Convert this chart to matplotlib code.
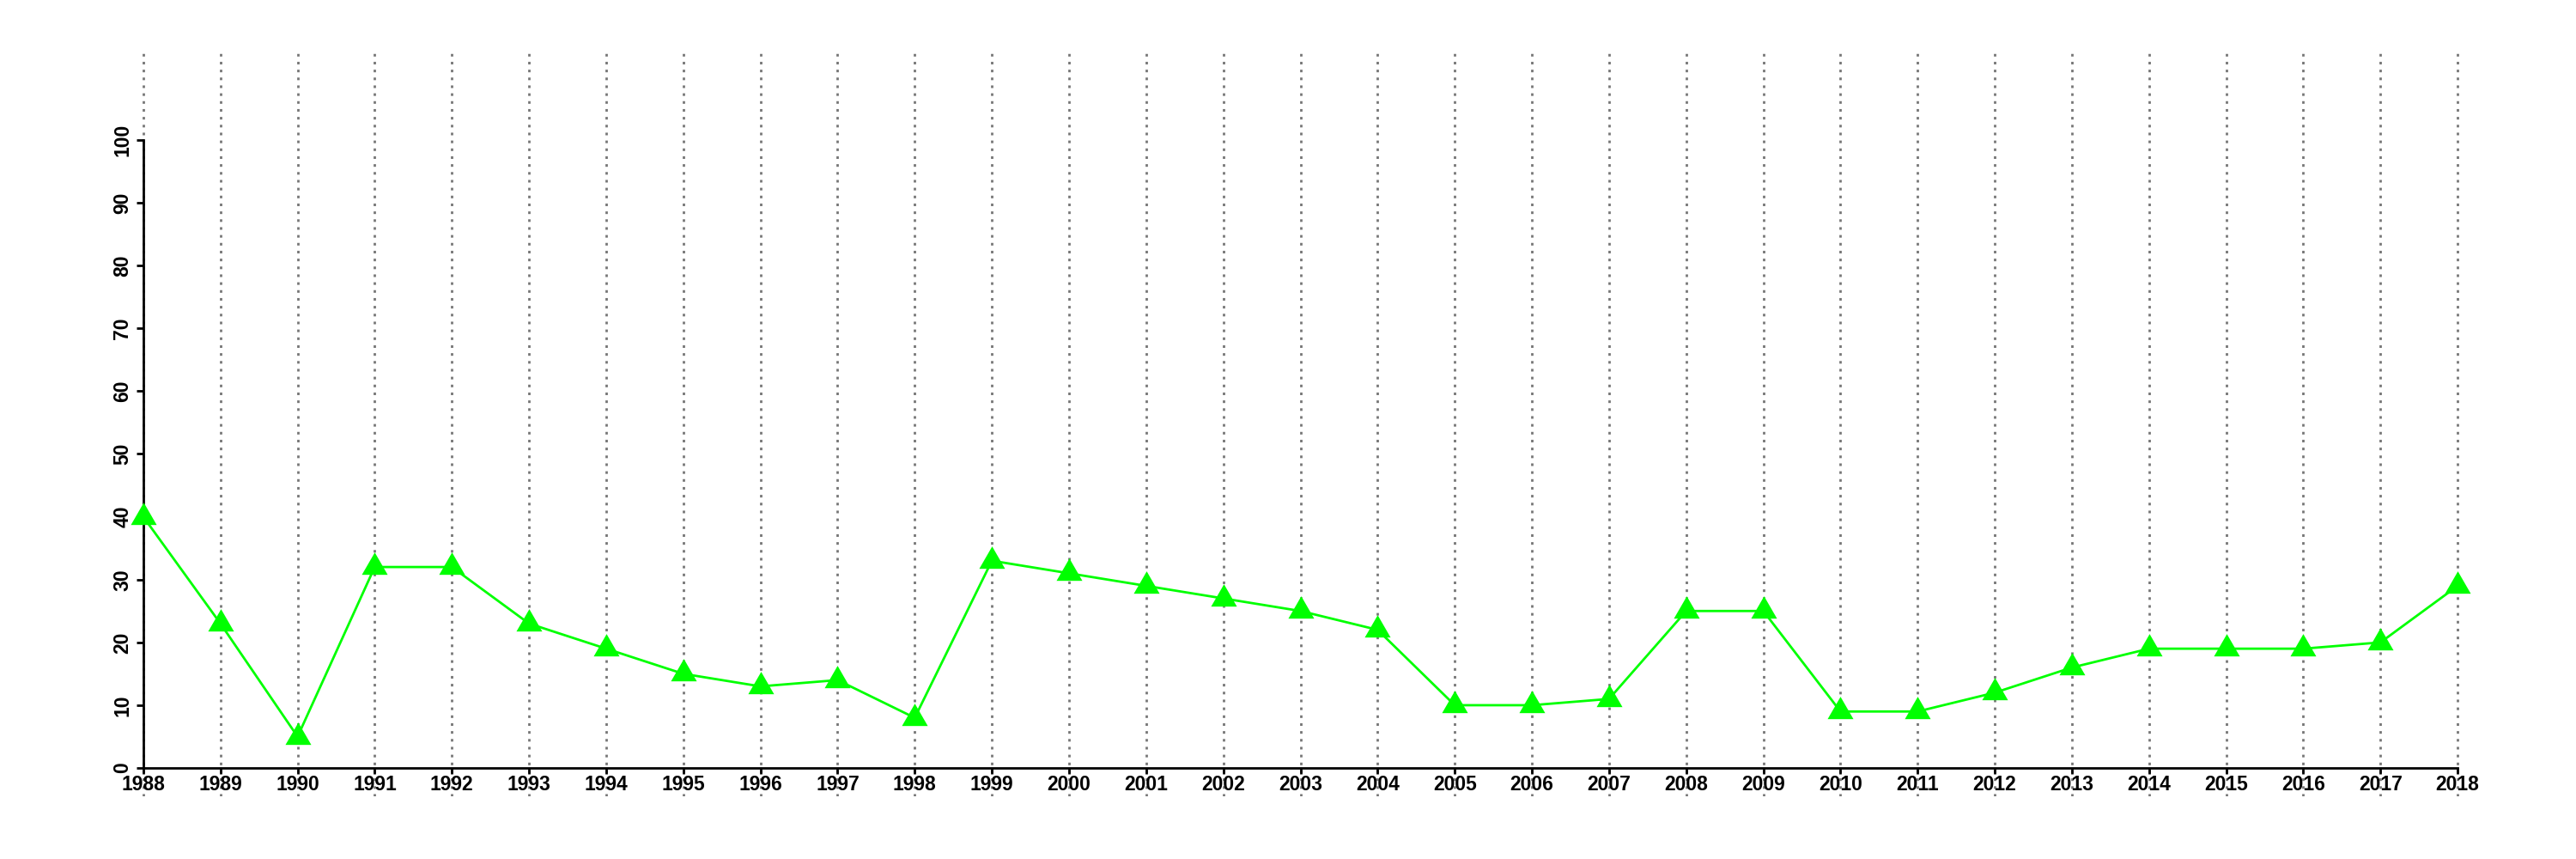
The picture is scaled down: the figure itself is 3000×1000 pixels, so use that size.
import numpy as np
import matplotlib
matplotlib.use('Agg')
import matplotlib.pyplot as plt

years = list(range(1988, 2019))
values = [40, 23, 5, 32, 32, 23, 19, 15, 13, 14, 8,
          33, 31, 29, 27, 25, 22, 10, 10, 11, 25, 25,
          9, 9, 12, 16, 19, 19, 19, 20, 29]
yticks = list(range(0, 101, 10))

plt.rcParams['font.family'] = ['Liberation Sans', 'DejaVu Sans']
plt.rcParams['font.weight'] = 'bold'

fig = plt.figure(figsize=(30, 10), dpi=100)
# axes box placed to match the reference plot region
ax = fig.add_axes([95 / 3000, 0.073, (2952 - 95) / 3000, 0.941 - 0.073])

# spines first: set_position resets the ticks
for s in ['top', 'right']:
    ax.spines[s].set_visible(False)
ax.spines['left'].set_position(('data', 1988))
ax.spines['left'].set_bounds(0, 100)
ax.spines['left'].set_linewidth(2)
ax.spines['bottom'].set_position(('data', 0))
ax.spines['bottom'].set_bounds(1988, 2018)
ax.spines['bottom'].set_linewidth(2)

tri = [(0, 1), (-0.866, -0.5), (0.866, -0.5)]
ax.plot(years, values, color='#00ff00', lw=2.0, marker=tri, markersize=25,
        markeredgewidth=0, zorder=3, clip_on=False)

ax.set_xlim(1987.2, 2019)
ax.set_ylim(-4.5, 114.2)

ax.set_xticks(years)
ax.set_xticklabels([str(y) for y in years])
ax.set_yticks(yticks)
ax.set_yticklabels([str(t) for t in yticks], va='center')
ax.tick_params(axis='both', labelsize=16.5)
ax.tick_params(axis='x', length=5, width=2, pad=1)
ax.tick_params(axis='y', length=6, width=2, pad=3, labelrotation=90)

ax.grid(axis='x', color='#777777', linestyle=(0, (1.1, 2.2)), lw=2)
ax.set_axisbelow(True)

fig.savefig('out.png', dpi=100)
